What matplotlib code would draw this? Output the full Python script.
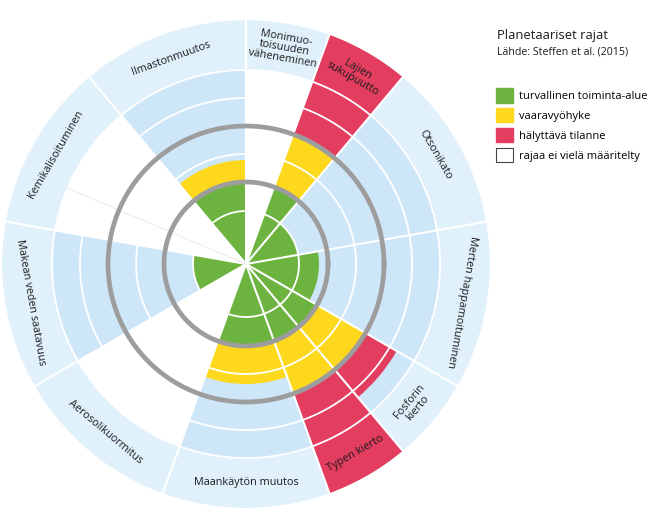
import matplotlib.pyplot as plt
from matplotlib.patches import Patch
import numpy as np

plt.rcParams['font.family'] = ['Open Sans', 'DejaVu Sans']

# sectors, counterclockwise from the east, degrees
labels = ["Merten happamoituminen", "Otsonikato", "Lajien\nsukupuutto",
          "Monimuo-\ntoisuuden\nväheneminen", "Ilmastonmuutos", "Kemikalisoituminen",
          "Makean veden saatavuus", "Aerosolikuormitus", "Maankäytön muutos",
          "Typen kierto", "Fosforin\nkierto"]
starts = [-30, 10, 50, 70, 90, 130, 170, 210, 250, 290, 310]
widths = [40, 40, 20, 20, 40, 40, 40, 40, 40, 20, 20]
defined = [1, 1, 1, 0, 1, 0, 1, 0, 1, 1, 1]

# how far each zone reaches (radial units, boundary circle = 82, high risk circle = 138)
green_to = [73, 53, 82, 0, 82, 0, 53, 0, 82, 82, 82]
yellow_to = [0, 0, 138, 0, 104, 0, 0, 0, 120, 138, 138]
red_to = [0, 0, 244, 0, 0, 0, 0, 0, 0, 244, 174]

legend_labels = ["turvallinen toiminta-alue", "vaaravyöhyke", "hälyttävä tilanne",
                 "rajaa ei vielä määritelty"]

GREEN = "#6db33f"
YELLOW = "#fed81c"
RED = "#e33d60"
BLUE = "#cde6f8"
BAND = "#e1f1fb"
GRAY = "#9d9d9d"

BOUNDARY = 82
HIGH_RISK = 138
GRID_R = [53, 110, 166, 194]
R_MAX = 244

fig = plt.figure(figsize=(6.71, 5.21), dpi=100)
ax = fig.add_axes([2 / 671, 13 / 521, 488 / 671, 488 / 521], projection='polar')

th0 = np.deg2rad(starts)
thw = np.deg2rad(widths)
thc = th0 + thw / 2

# background: light blue for defined boundaries, white for the rest, label band outside
bg = [BLUE if d else "white" for d in defined]
ax.bar(thc, 194, width=thw, bottom=0, color=bg, linewidth=0)
ax.bar(thc, R_MAX - 194, width=thw, bottom=194, color=BAND, linewidth=0)

# zones
for i in range(len(labels)):
    if green_to[i] > 0:
        ax.bar(thc[i], green_to[i], width=thw[i], bottom=0, color=GREEN, linewidth=0)
    if yellow_to[i] > 0:
        ax.bar(thc[i], yellow_to[i] - BOUNDARY, width=thw[i], bottom=BOUNDARY,
               color=YELLOW, linewidth=0)
    if red_to[i] > 0:
        ax.bar(thc[i], red_to[i] - HIGH_RISK, width=thw[i], bottom=HIGH_RISK,
               color=RED, linewidth=0)

# white grid
tt = np.linspace(0, 2 * np.pi, 400)
for r in GRID_R:
    ax.plot(tt, np.full_like(tt, r), color="white", lw=1.3)
for t in th0:
    ax.plot([t, t], [0, R_MAX], color="white", lw=1.5)
# faint line in the chemical pollution sector
ax.plot([np.deg2rad(157)] * 2, [0, 194], color="#eeeeee", lw=0.8)

# boundary circles
for r in (BOUNDARY, HIGH_RISK):
    ax.plot(tt, np.full_like(tt, r), color=GRAY, lw=3.4)

# sector names in the outer band
for i, lab in enumerate(labels):
    a = starts[i] + widths[i] / 2
    if -20 < a < 180:
        rot = a - 90
    else:
        rot = a + 90
    ax.text(np.deg2rad(a), 219, lab, rotation=rot, rotation_mode='anchor',
            ha='center', va='center', fontsize=7.8, color="#1c1c1c", linespacing=0.95)

ax.set_ylim(0, R_MAX)
ax.set_xticks([])
ax.set_yticks([])
ax.grid(False)
ax.spines['polar'].set_visible(False)
ax.patch.set_alpha(0)

# title and legend
fig.text(497 / 671, 1 - 35 / 521, "Planetaariset rajat", fontsize=9.4, color="#1c1c1c",
         va='center')
fig.text(497 / 671, 1 - 52 / 521, "Lähde: Steffen et al. (2015)", fontsize=7.7,
         color="#1c1c1c", va='center')

handles = [Patch(facecolor=GREEN, edgecolor=GREEN),
           Patch(facecolor=YELLOW, edgecolor=YELLOW),
           Patch(facecolor=RED, edgecolor=RED),
           Patch(facecolor="white", edgecolor="#444444", linewidth=0.8)]
fig.legend(handles, legend_labels, loc='upper left',
           bbox_to_anchor=(494 / 671, 1 - 86 / 521), frameon=False,
           fontsize=8, handlelength=1.5, handleheight=1.6, handletextpad=0.55,
           labelspacing=0.5, borderaxespad=0, borderpad=0.2)

fig.savefig("out.png", dpi=100)
